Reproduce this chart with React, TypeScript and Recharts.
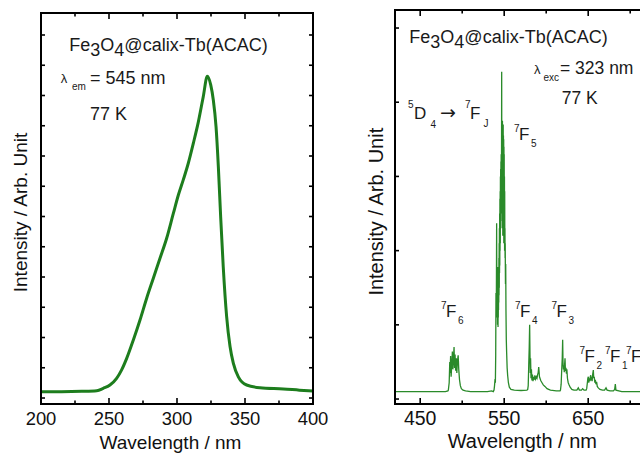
import React from 'react';
import { LineChart, Line, XAxis, YAxis, Label } from 'recharts';

const FONT = '"Liberation Sans", Arial, Helvetica, sans-serif';

// ---------- Left panel: excitation spectrum (λem = 545 nm) ----------
const excWavelength = [200, 215, 230, 241, 245.8, 250.7, 255.6, 259.3, 263, 267.9, 272.8, 277.7, 282.6, 287.5, 292.4, 297.3, 301, 304.6, 308.3, 312, 315.7, 319.3, 322.3, 324.8, 326.7, 328.7, 330.4, 332.1, 334, 336.5, 339, 341.4, 345.1, 351.2, 361, 378.2, 390, 400];
const excIntensity = [0.21, 0.21, 0.22, 0.24, 0.32, 0.43, 0.65, 0.93, 1.31, 1.92, 2.58, 3.3, 3.96, 4.62, 5.28, 6.1, 6.71, 7.21, 7.76, 8.42, 9.13, 9.96, 10.64, 10.35, 9.85, 8.97, 7.65, 5.99, 4.34, 2.69, 1.7, 1.15, 0.7, 0.43, 0.34, 0.3, 0.26, 0.23];
const excMajorTicks = [200, 250, 300, 350, 400];
const excMinorTicks = [225, 275, 325, 375];
const excYTicks = [0, 1, 2, 3, 4, 5, 6, 7, 8, 9, 10, 11, 12];

// ---------- Right panel: emission spectrum (λexc = 323 nm) ----------
const emWavelength = [
  420, 450, 480, 483, 483.5, 484.5, 485.2, 485.6, 486.2, 486.8, 487.5, 488.3, 488.9, 489.6, 490.3, 490.9, 491.5, 492.2, 493, 493.6, 494.4, 495.2, 495.9, 496.8, 497.8, 499, 501, 504, 510, 530, 535,
  537, 537.9, 538.5, 539.1, 539.5, 539.9, 540.2, 540.6, 541, 541.3,
  541.6, 541.75, 541.9, 542.05, 542.2, 542.35, 542.5, 542.65, 542.8, 542.95, 543.1, 543.25, 543.4, 543.55, 543.7, 543.85, 544, 544.15, 544.3, 544.45, 544.6, 544.75, 544.9, 545.05, 545.2, 545.35, 545.5, 545.65, 545.8, 545.95, 546.1, 546.25, 546.4, 546.55, 546.7,
  547, 547.15, 547.3, 547.45, 547.6, 547.75, 547.9, 548.05, 548.2, 548.35, 548.5, 548.65, 548.8, 548.95, 549.1, 549.25, 549.4, 549.55, 549.7, 549.85, 550, 550.15, 550.3, 550.45, 550.6, 550.75, 550.9, 551.05, 551.2, 551.5, 551.8, 552.1, 552.5, 552.9, 553.5, 554.1, 555, 556.1, 558, 562, 570, 577,
  578, 578.6, 579.2, 579.8, 580.3, 580.7, 581, 581.4, 581.9, 582.4, 583, 583.6, 584.3, 585, 585.8, 586.5, 587.3, 588.2, 589, 589.8, 590.5, 591.1, 592, 593.5, 595, 596.5, 598.5, 601, 605, 612, 616.5,
  617, 617.8, 618.5, 619.1, 619.6, 620, 620.5, 621, 621.5, 622, 622.4, 622.9, 623.5, 624.1, 624.6, 625.3, 626.2, 627.3, 628.5, 630.5, 633, 636.5, 638.2, 639.5, 642, 643.4, 645, 647.5,
  648.2, 649, 649.6, 650.2, 650.7, 651.3, 652, 652.5, 653, 653.5, 654.1, 654.7, 655.3, 656.1, 656.6, 657.2, 657.9, 658.5, 659.2, 660, 660.8, 662, 664, 667, 669.5, 671.2, 672.5, 676, 680, 681.5, 682.3, 683, 690, 720,
];
const emIntensity = [
  0.1, 0.1, 0.1, 0.11, 0.12, 0.22, 0.5, 0.35, 0.58, 0.3, 0.45, 0.64, 0.4, 0.55, 0.7, 0.42, 0.6, 0.38, 0.55, 0.35, 0.52, 0.59, 0.4, 0.26, 0.18, 0.14, 0.12, 0.11, 0.1, 0.1, 0.11,
  0.1, 0.12, 0.18, 0.27, 0.22, 0.6, 1.43, 1.1, 2.37, 1.33,
  1.7, 1.1, 1.6, 1.0, 1.78, 1.1, 1.5, 0.97, 1.6, 1.1, 1.7, 1.2, 1.75, 1.3, 1.9, 1.4, 2.1, 1.5, 2.3, 1.7, 2.5, 1.8, 2.7, 2.0, 2.8, 2.1, 3.0, 2.3, 3.1, 2.4, 3.2, 2.5, 3.3, 2.6, 2.6,
  4.41, 3.0, 3.68, 2.5, 3.6, 2.3, 3.75, 2.4, 3.6, 2.2, 3.65, 2.3, 3.7, 2.5, 3.55, 2.2, 3.5, 2.1, 3.4, 2.3, 3.3, 2.2, 3.0, 2.0, 2.8, 2.0, 2.3, 1.9, 2.1, 1.55, 1.82, 1.2, 0.8, 0.63, 0.42, 0.32, 0.22, 0.16, 0.13, 0.12, 0.115, 0.12,
  0.13, 0.18, 0.45, 0.7, 1.0, 0.6, 0.35, 0.55, 0.28, 0.4, 0.25, 0.33, 0.24, 0.3, 0.26, 0.32, 0.27, 0.3, 0.28, 0.33, 0.36, 0.43, 0.3, 0.25, 0.22, 0.19, 0.17, 0.14, 0.12, 0.11, 0.11,
  0.12, 0.2, 0.4, 0.55, 0.8, 0.5, 0.4, 0.45, 0.36, 0.48, 0.55, 0.38, 0.42, 0.34, 0.4, 0.28, 0.22, 0.19, 0.16, 0.13, 0.12, 0.12, 0.15, 0.12, 0.12, 0.14, 0.12, 0.12,
  0.14, 0.22, 0.28, 0.3, 0.22, 0.28, 0.24, 0.3, 0.32, 0.25, 0.3, 0.24, 0.33, 0.39, 0.28, 0.3, 0.22, 0.26, 0.2, 0.23, 0.17, 0.15, 0.13, 0.12, 0.12, 0.15, 0.12, 0.11, 0.11, 0.13, 0.2, 0.12, 0.1, 0.1,
];
const emMajorTicks = [450, 550, 650];
const emMinorTicks = [500, 600, 700];
const emYTicks = [0, 1, 2, 3, 4, 5];

const excData = excWavelength.map((wl, i) => ({ wl, I: excIntensity[i] }));
const emData = emWavelength.map((wl, i) => ({ wl, I: emIntensity[i] }));

type TickOpts = { majors: number[]; majorLen: number; minorLen: number; fontSize: number; dy: number; showLabel: boolean };

const makeXTick = (o: TickOpts, dir: 1 | -1) => (props: any) => {
  const { x, y, payload } = props;
  const v = payload.value;
  const major = o.majors.includes(v);
  const len = major ? o.majorLen : o.minorLen;
  return (
    <g>
      <line x1={x} x2={x} y1={y} y2={y + dir * len} stroke="#000" strokeWidth={1.6} />
      {o.showLabel && major && (
        <text x={x} y={y + o.dy} textAnchor="middle" fontSize={o.fontSize} fontFamily={FONT} fill="#111">
          {v}
        </text>
      )}
    </g>
  );
};

const makeYTick = (len: number, dir: 1 | -1) => (props: any) => {
  const { x, y } = props;
  return <line x1={x} x2={x + dir * len} y1={y} y2={y} stroke="#000" strokeWidth={1.6} />;
};

const axisLine = { stroke: '#000', strokeWidth: 2, strokeLinecap: 'square' as const };

const Term = ({ x, y, sup, main, sub, size = 17, small = 10 }: any) => (
  <g fontFamily={FONT} fill="#1a1a1a">
    <text x={x} y={y - 8} fontSize={small}>{sup}</text>
    <text x={x + 5} y={y} fontSize={size}>{main}</text>
    <text x={x + 17} y={y + 7} fontSize={small}>{sub}</text>
  </g>
);

const Title = ({ x, y, size }: any) => (
  <text x={x} y={y} fontSize={size} fontFamily={FONT} fill="#1a1a1a">
    Fe<tspan dy={5}>3</tspan><tspan dy={-5}>O</tspan><tspan dy={5}>4</tspan><tspan dy={-5}>@calix-Tb(ACAC)</tspan>
  </text>
);

export default function App() {
  const leftBottom = makeXTick({ majors: excMajorTicks, majorLen: 6, minorLen: 3.5, fontSize: 18.4, dy: 20.5, showLabel: true }, -1);
  const leftTop = makeXTick({ majors: excMajorTicks, majorLen: 6, minorLen: 3.5, fontSize: 18, dy: 0, showLabel: false }, 1);
  const rightBottom = makeXTick({ majors: emMajorTicks, majorLen: 6, minorLen: 3.5, fontSize: 19.5, dy: 21, showLabel: true }, -1);
  const rightTop = makeXTick({ majors: emMajorTicks, majorLen: 6, minorLen: 3.5, fontSize: 19.5, dy: 0, showLabel: false }, 1);

  return (
    <div style={{ position: 'absolute', left: 0, top: 0, width: 640, height: 453, overflow: 'hidden', background: '#fff' }}>
      <div style={{ position: 'absolute', left: 0, top: 0 }}>
        <LineChart width={330} height={453} data={excData} margin={{ top: 12, left: 40, right: 16, bottom: 48 }}>
          <XAxis dataKey="wl" type="number" domain={[200, 400]} allowDataOverflow ticks={[...excMajorTicks, ...excMinorTicks]} interval={0}
            height={1} tickSize={0} tickMargin={0} tickLine={false} axisLine={axisLine} tick={leftBottom}>
            <Label content={() => (
              <text x={170.5} y={448.5} textAnchor="middle" fontSize={19} fontFamily={FONT} fill="#111">Wavelength / nm</text>
            )} />
          </XAxis>
          <XAxis xAxisId="top" orientation="top" dataKey="wl" type="number" domain={[200, 400]} allowDataOverflow ticks={[...excMajorTicks, ...excMinorTicks]} interval={0}
            height={1} tickSize={0} tickMargin={0} tickLine={false} axisLine={axisLine} tick={leftTop} />
          <YAxis type="number" domain={[-0.198, 12.727]} allowDataOverflow ticks={excYTicks} interval={0} width={1} tickSize={0} tickMargin={0}
            tickLine={false} axisLine={axisLine} tick={makeYTick(4, 1)}>
            <Label content={() => {
              const cx = 26.7;
              const cy = 212.5;
              return <text x={cx} y={cy} transform={`rotate(-90 ${cx} ${cy})`} textAnchor="middle" fontSize={19} fontFamily={FONT} fill="#111">Intensity / Arb. Unit</text>;
            }} />
          </YAxis>
          <YAxis yAxisId="right" orientation="right" type="number" domain={[-0.198, 12.727]} allowDataOverflow ticks={excYTicks} interval={0} width={1}
            tickSize={0} tickMargin={0} tickLine={false} axisLine={axisLine} tick={makeYTick(4, -1)} />
          <Line type="monotone" dataKey="I" stroke="#1d7d1d" strokeWidth={3} dot={false} isAnimationActive={false} />
        </LineChart>
      </div>
      <div style={{ position: 'absolute', left: 330, top: 0 }}>
        <LineChart width={330} height={453} data={emData} margin={{ top: 9, left: 64, right: 12, bottom: 48 }}>
          <XAxis dataKey="wl" type="number" domain={[420, 720]} allowDataOverflow ticks={[...emMajorTicks, ...emMinorTicks]} interval={0}
            height={1} tickSize={0} tickMargin={0} tickLine={false} axisLine={axisLine} tick={rightBottom}>
            <Label content={() => (
              <text x={192.3} y={448.3} textAnchor="middle" fontSize={20} fontFamily={FONT} fill="#111">Wavelength / nm</text>
            )} />
          </XAxis>
          <XAxis xAxisId="top" orientation="top" dataKey="wl" type="number" domain={[420, 720]} allowDataOverflow ticks={[...emMajorTicks, ...emMinorTicks]} interval={0}
            height={1} tickSize={0} tickMargin={0} tickLine={false} axisLine={axisLine} tick={rightTop} />
          <YAxis type="number" domain={[-0.067, 5.243]} allowDataOverflow ticks={emYTicks} interval={0} width={1} tickSize={0} tickMargin={0}
            tickLine={false} axisLine={axisLine} tick={makeYTick(4, 1)}>
            <Label content={() => {
              const cx = 53;
              const cy = 211.7;
              return <text x={cx} y={cy} transform={`rotate(-90 ${cx} ${cy})`} textAnchor="middle" fontSize={20} fontFamily={FONT} fill="#111">Intensity / Arb. Unit</text>;
            }} />
          </YAxis>
          <YAxis yAxisId="right" orientation="right" type="number" domain={[-0.067, 5.243]} allowDataOverflow ticks={emYTicks} interval={0} width={1}
            tickSize={0} tickMargin={0} tickLine={false} axisLine={axisLine} tick={makeYTick(4, -1)} />
          <Line type="linear" dataKey="I" stroke="#2a8a2a" strokeWidth={1.3} dot={false} isAnimationActive={false} />
        </LineChart>
      </div>
      <svg width={640} height={453} style={{ position: 'absolute', left: 0, top: 0, pointerEvents: 'none' }}>
        <Title x={69.3} y={50.7} size={18} />
        <g fontFamily={FONT} fill="#1a1a1a">
          <text x={60.7} y={83} fontSize={13}>λ</text>
          <text x={72} y={90} fontSize={10}>em</text>
          <text x={90} y={84} fontSize={18}>= 545 nm</text>
          <text x={90} y={120} fontSize={18}>77 K</text>
        </g>
        <Title x={409.3} y={42.7} size={18} />
        <g fontFamily={FONT} fill="#1a1a1a">
          <text x={534} y={74} fontSize={13}>λ</text>
          <text x={543.5} y={81} fontSize={10}>exc</text>
          <text x={560} y={74} fontSize={17.5}>= 323 nm</text>
          <text x={561.7} y={104} fontSize={17.5}>77 K</text>
          <text x={408} y={108} fontSize={10}>5</text>
          <text x={414} y={119.3} fontSize={17}>D</text>
          <text x={430.5} y={128} fontSize={10}>4</text>
          <text x={440} y={119.3} fontSize={19} fontFamily='"DejaVu Sans", sans-serif'>→</text>
          <text x={465} y={108} fontSize={10}>7</text>
          <text x={470} y={119.3} fontSize={17}>F</text>
          <text x={483.5} y={126.7} fontSize={10}>J</text>
        </g>
        <Term x={514} y={140} sup="7" main="F" sub="5" />
        <Term x={441} y={316.7} sup="7" main="F" sub="6" />
        <Term x={515} y={316.7} sup="7" main="F" sub="4" />
        <Term x={551.5} y={316.7} sup="7" main="F" sub="3" />
        <Term x={579.5} y={361.7} sup="7" main="F" sub="2" />
        <Term x={605} y={361.7} sup="7" main="F" sub="1" />
        <Term x={626} y={361.7} sup="7" main="F" sub="0" />
      </svg>
    </div>
  );
}
